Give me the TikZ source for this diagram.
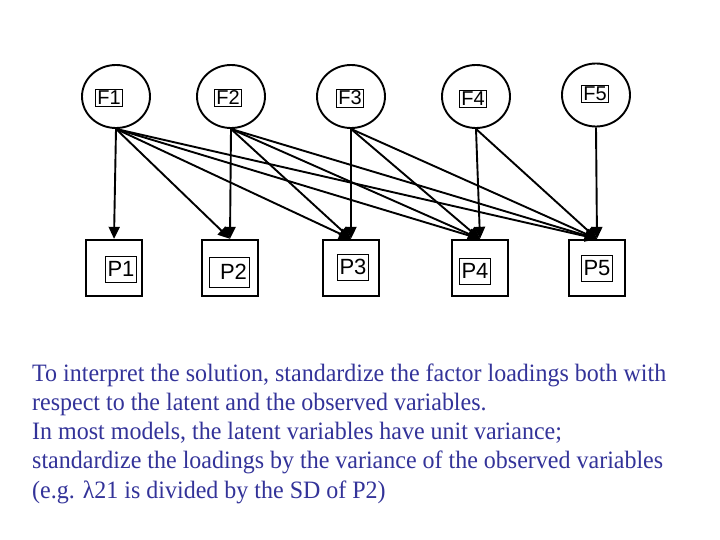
\documentclass[tikz,border=0pt]{standalone}
\usepackage{fontspec}
\setmainfont{Liberation Serif}
\newfontfamily\arialf{Liberation Sans}
\usetikzlibrary{shapes.geometric,arrows.meta}
\definecolor{txtblue}{RGB}{51,51,153}
\begin{document}
\begin{tikzpicture}[x=1pt,y=-1pt,
 latent/.style={ellipse,draw,line width=1.9pt,minimum width=68pt,minimum height=63pt,inner sep=0pt},
 obs/.style={rectangle,draw,line width=2.3pt,minimum width=56pt,minimum height=56pt,inner sep=0pt},
 flab/.style={draw,line width=0.7pt,font=\arialf\fontsize{20}{20}\selectfont,inner sep=1.8pt},
 plab/.style={draw,line width=0.7pt,font=\arialf\fontsize{22}{22}\selectfont,inner sep=2pt,minimum height=26pt},
 load/.style={line width=1.9pt,-{Triangle[length=12pt,width=11pt]}},
 para/.style={anchor=base west,inner sep=0pt,text=txtblue,font=\fontsize{25}{29.3}\selectfont},
]
\useasboundingbox (0,0) rectangle (720,540);
% latent factors
\node[latent] (F1) at (116,96.5) {};
\node[latent] (F2) at (231,96.5) {};
\node[latent] (F3) at (351,96.5) {};
\node[latent] (F4) at (476,96.5) {};
\node[latent] (F5) at (596,95) {};
\node[flab] (lF1) at (109,98) {F1};
\node[flab] (lF2) at (228,98) {F2};
\node[flab] (lF3) at (350,98) {F3};
\node[flab] (lF4) at (473,99) {F4};
\node[flab] (lF5) at (595,94) {F5};
% observed
\node[obs] (P1) at (114,268) {};
\node[obs] (P2) at (230,268) {};
\node[obs] (P3) at (351,268) {};
\node[obs] (P4) at (480,268) {};
\node[obs] (P5) at (597,268) {};
\node[plab] (lP1) at (121,269) {P1};
\node[plab,minimum height=30pt] (lP2) at (229,272) {\hspace{9pt}P2};
\node[plab] (lP3) at (353,267) {P3};
\node[plab] (lP4) at (475,271) {P4};
\node[plab] (lP5) at (597,268) {P5};
% loadings
\foreach \i in {1,...,5}{
  \foreach \j in {\i,...,5}{
    \draw[load] (F\i.south) -- (P\j.north);
  }
}
% text
\node[para] (txt) at (32,381) {\resizebox{634pt}{\height}{\begin{tabular}[t]{@{}l@{}}%
To interpret the solution, standardize the factor loadings both with\\
respect to the latent and the observed variables.\\
In most models, the latent variables have unit variance;\\
standardize the loadings by the variance of the observed variables\\
(e.g. λ21 is divided by the SD of P2)
\end{tabular}}};
\end{tikzpicture}
\end{document}
